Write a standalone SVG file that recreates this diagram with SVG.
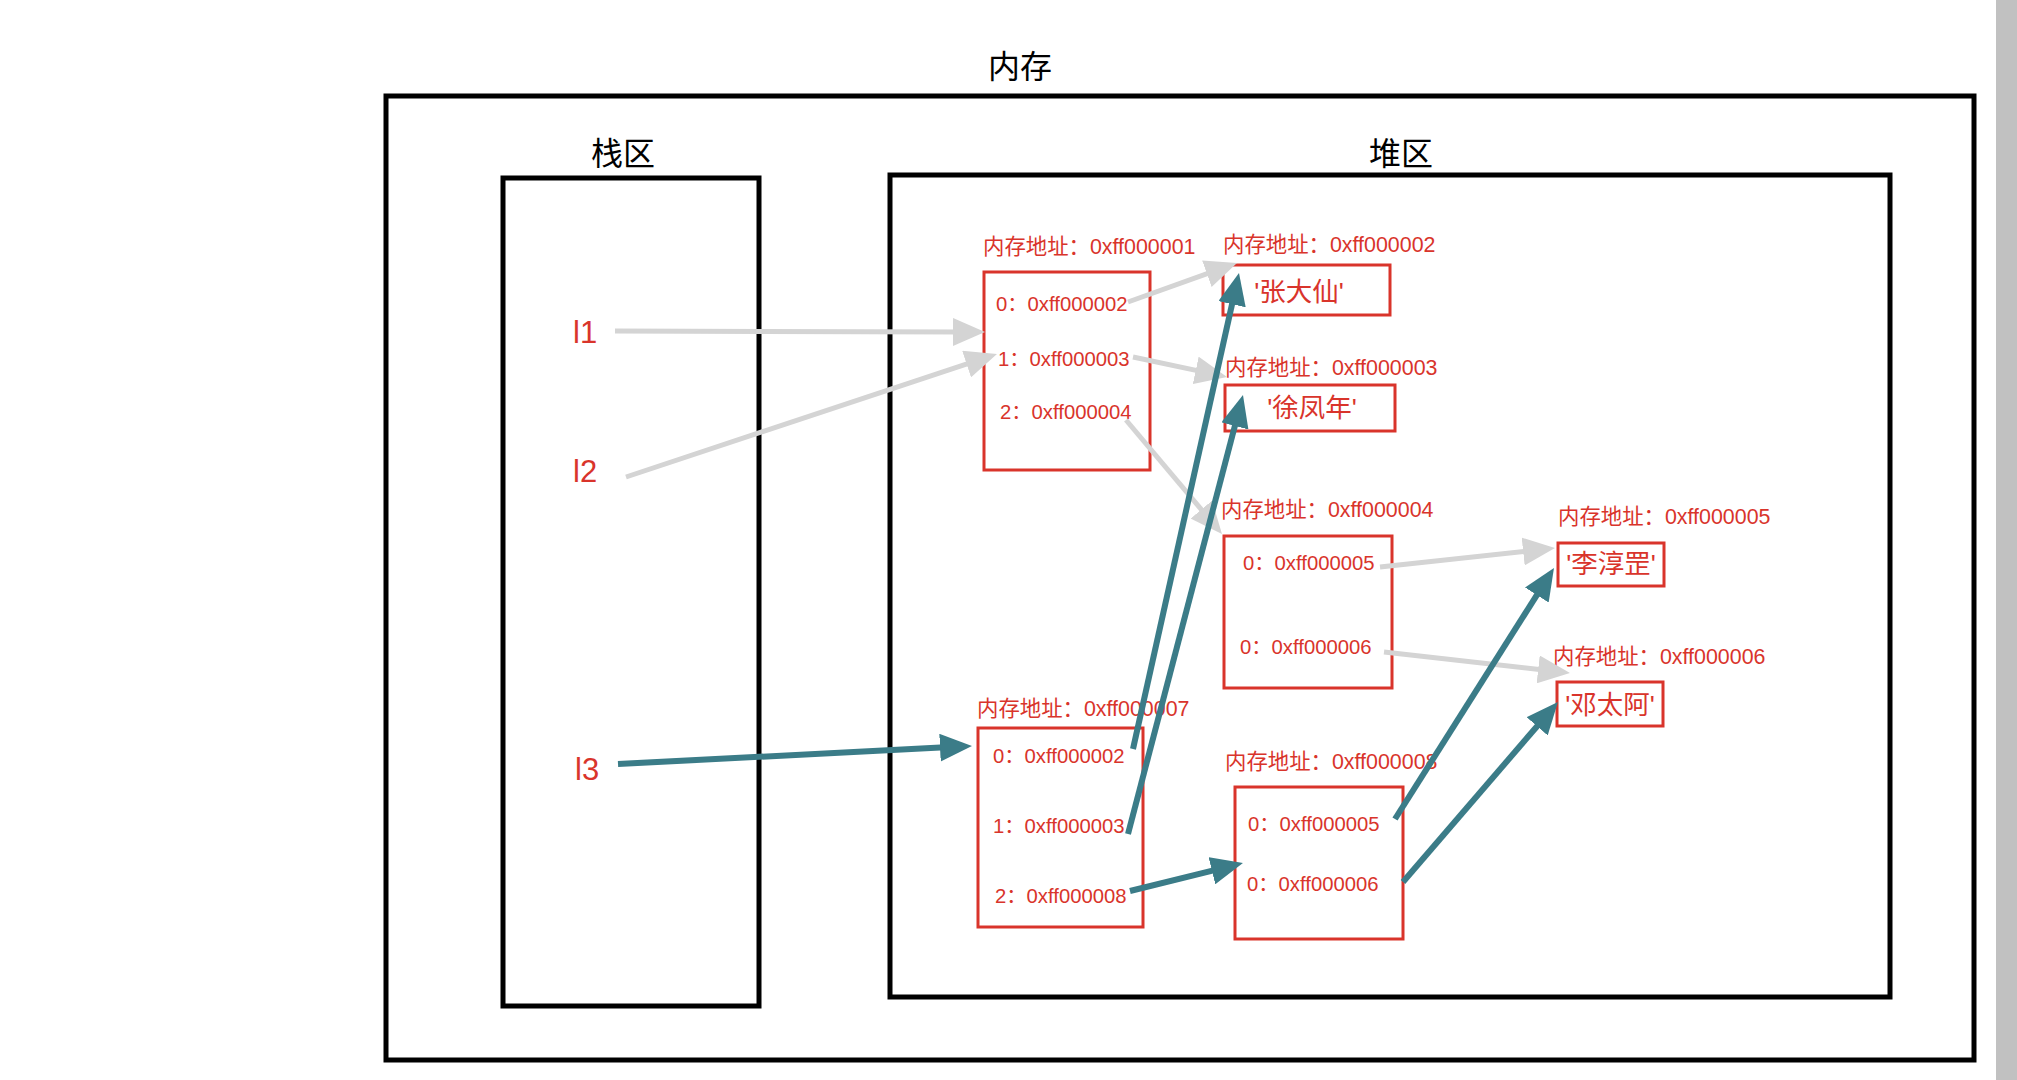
<svg xmlns="http://www.w3.org/2000/svg" width="2017" height="1080" viewBox="0 0 2017 1080">
<style>
.frame{fill:none;stroke:#000;stroke-width:5}
.title{font-family:"Liberation Sans","Noto Sans CJK SC",sans-serif;font-size:32px;fill:#000;text-anchor:middle}
.var{font-family:"Liberation Sans","Noto Sans CJK SC",sans-serif;font-size:31px;fill:#d9342b}
.box{fill:none;stroke:#d9342b;stroke-width:3}
.lbl{font-family:"Liberation Sans","Noto Sans CJK SC",sans-serif;font-size:21.4px;fill:#d9342b}
.ent{font-family:"Liberation Sans","Noto Sans CJK SC",sans-serif;font-size:20.3px;fill:#d9342b}
.val{font-family:"Liberation Sans","Noto Sans CJK SC",sans-serif;font-size:26.5px;fill:#d9342b;text-anchor:middle}
.g{fill:none;stroke:#d4d4d4;stroke-width:5;marker-end:url(#ag)}
.t{fill:none;stroke:#3b7c88;stroke-width:6;marker-end:url(#at)}
</style>
<defs>
<marker id="ag" markerUnits="userSpaceOnUse" markerWidth="32" markerHeight="28" refX="10" refY="14" orient="auto"><path d="M0,0 L32,14 L0,28 z" fill="#d4d4d4"/></marker>
<marker id="at" markerUnits="userSpaceOnUse" markerWidth="32" markerHeight="28" refX="10" refY="14" orient="auto"><path d="M0,0 L32,14 L0,28 z" fill="#3b7c88"/></marker>
</defs>
<rect width="2017" height="1080" fill="#fff"/>
<rect x="1996" y="0" width="21" height="1080" fill="#c1c1c1"/>
<g id="memory">
<rect class="frame" x="386" y="96" width="1588" height="964"/>
<text class="title" x="1020" y="78">内存</text>
</g>
<g id="stack">
<rect class="frame" x="503" y="178" width="256" height="828"/>
<text class="title" x="623" y="165">栈区</text>
<text class="var" x="573" y="343">l1</text>
<text class="var" x="573" y="482">l2</text>
<text class="var" x="575" y="780">l3</text>
</g>
<g id="heap">
<rect class="frame" x="890" y="175" width="1000" height="822"/>
<text class="title" x="1401" y="165">堆区</text>
</g>
<g id="obj1">
<text class="lbl" x="983" y="254">内存地址：0xff000001</text>
<rect class="box" x="984" y="272" width="166" height="198"/>
<text class="ent" x="996" y="311">0：0xff000002</text>
<text class="ent" x="998" y="366">1：0xff000003</text>
<text class="ent" x="1000" y="419">2：0xff000004</text>
</g>
<g id="obj2">
<text class="lbl" x="1223" y="252">内存地址：0xff000002</text>
<rect class="box" x="1223" y="265" width="167" height="50"/>
<text class="val" x="1299" y="301">'张大仙'</text>
</g>
<g id="obj3">
<text class="lbl" x="1225" y="375">内存地址：0xff000003</text>
<rect class="box" x="1225" y="385" width="170" height="46"/>
<text class="val" x="1312" y="417">'徐凤年'</text>
</g>
<g id="obj4">
<text class="lbl" x="1221" y="517">内存地址：0xff000004</text>
<rect class="box" x="1224" y="536" width="168" height="152"/>
<text class="ent" x="1243" y="570">0：0xff000005</text>
<text class="ent" x="1240" y="654">0：0xff000006</text>
</g>
<g id="obj5">
<text class="lbl" x="1558" y="524">内存地址：0xff000005</text>
<rect class="box" x="1558" y="543" width="106" height="43"/>
<text class="val" x="1611" y="573">'李淳罡'</text>
</g>
<g id="obj6">
<text class="lbl" x="1553" y="664">内存地址：0xff000006</text>
<rect class="box" x="1557" y="682" width="106" height="44"/>
<text class="val" x="1610" y="714">'邓太阿'</text>
</g>
<g id="obj7">
<text class="lbl" x="977" y="716">内存地址：0xff000007</text>
<rect class="box" x="978" y="728" width="165" height="199"/>
<text class="ent" x="993" y="763">0：0xff000002</text>
<text class="ent" x="993" y="833">1：0xff000003</text>
<text class="ent" x="995" y="903">2：0xff000008</text>
</g>
<g id="obj8">
<text class="lbl" x="1225" y="769">内存地址：0xff000008</text>
<rect class="box" x="1235" y="787" width="168" height="152"/>
<text class="ent" x="1248" y="831">0：0xff000005</text>
<text class="ent" x="1247" y="891">0：0xff000006</text>
</g>
<g id="connectors">
<line class="g" x1="615" y1="331" x2="963" y2="332"/>
<line class="g" x1="626" y1="477" x2="976.1" y2="360.9"/>
<line class="g" x1="1128" y1="302" x2="1216.3" y2="270.4"/>
<line class="g" x1="1133" y1="357" x2="1205.5" y2="372.4"/>
<line class="g" x1="1126" y1="420" x2="1207.8" y2="517.2"/>
<line class="g" x1="1380" y1="567" x2="1533.1" y2="550.4"/>
<line class="g" x1="1384" y1="652" x2="1548.1" y2="670.5"/>
<line class="t" x1="618" y1="764" x2="950" y2="747.1"/>
<line class="t" x1="1133" y1="749" x2="1234.2" y2="294.5"/>
<line class="t" x1="1128" y1="834" x2="1237.4" y2="416.3"/>
<line class="t" x1="1130" y1="891" x2="1221.6" y2="868.3"/>
<line class="t" x1="1395" y1="819" x2="1542.2" y2="586.6"/>
<line class="t" x1="1403" y1="882" x2="1543.6" y2="718.7"/>
</g>
</svg>
